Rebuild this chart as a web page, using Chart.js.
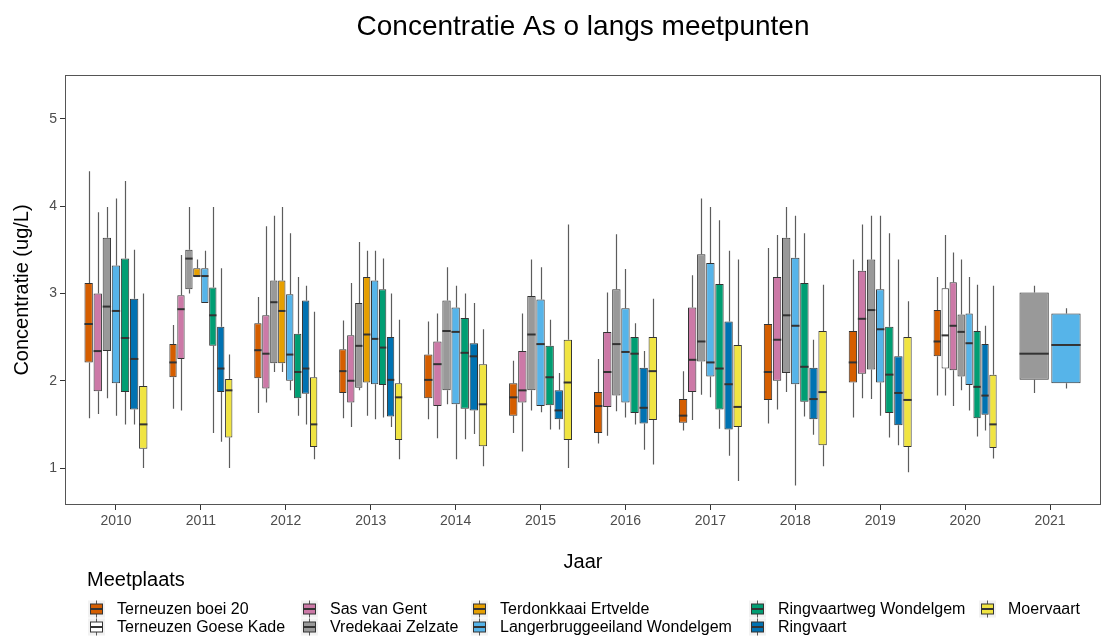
<!DOCTYPE html>
<html>
<head>
<meta charset="utf-8">
<title>Concentratie As</title>
<script src="https://cdn.jsdelivr.net/npm/chart.js@4"></script>
<style>
  html, body { margin: 0; padding: 0; background: #ffffff; }
</style>
</head>
<body>
<canvas id="plot" width="1103" height="636"></canvas>
<script>
const years = [2010, 2011, 2012, 2013, 2014, 2015, 2016, 2017, 2018, 2019, 2020, 2021];
const yTicks = [1, 2, 3, 4, 5];

const seriesNames = [
  'Terneuzen boei 20', 'Terneuzen Goese Kade', 'Sas van Gent', 'Vredekaai Zelzate',
  'Terdonkkaai Ertvelde', 'Langerbruggeeiland Wondelgem', 'Ringvaartweg Wondelgem',
  'Ringvaart', 'Moervaart'
];
const seriesColors = ['#D55E00', '#FFFFFF', '#CC79A7', '#999999', '#E69F00', '#56B4E9', '#009E73', '#0072B2', '#F0E442'];

// per year: [min, q1, median, q3, max]  (null = not measured that year)
const terneuzenBoei20 = [
  [1.57, 2.21, 2.65, 3.12, 4.40], [1.68, 2.04, 2.21, 2.42, 2.64], [1.63, 2.03, 2.35, 2.66, 2.96],
  [1.57, 1.86, 2.11, 2.36, 2.69], [1.56, 1.80, 2.01, 2.30, 2.68], [1.40, 1.60, 1.81, 1.97, 2.23],
  [1.28, 1.40, 1.71, 1.87, 2.25], [1.43, 1.52, 1.60, 1.79, 2.11], [1.51, 1.78, 2.10, 2.65, 3.52],
  [1.58, 1.98, 2.21, 2.57, 3.39], [1.83, 2.28, 2.45, 2.81, 3.19], null
];
const terneuzenGoeseKade = [
  null, null, null, null, null, null, null, null, null, null,
  [1.83, 2.14, 2.52, 3.06, 3.67], null
];
const sasVanGent = [
  [1.62, 1.88, 2.34, 3.00, 3.93], [1.66, 2.25, 2.82, 2.98, 3.44], [1.75, 1.91, 2.31, 2.75, 3.77],
  [1.47, 1.75, 2.00, 2.52, 3.12], [1.34, 1.71, 2.19, 2.45, 2.77], [1.19, 1.75, 1.89, 2.34, 2.77],
  [1.37, 1.70, 2.10, 2.56, 3.01], [1.55, 1.87, 2.24, 2.84, 3.21], [1.67, 2.00, 2.47, 3.19, 3.67],
  [1.80, 2.08, 2.71, 3.26, 3.79], [1.71, 2.12, 2.63, 3.13, 3.47], null
];
const vredekaaiZelzate = [
  [1.80, 2.34, 2.85, 3.64, 3.99], [3.00, 3.05, 3.40, 3.50, 3.99], [2.10, 2.20, 2.90, 3.15, 3.89],
  [1.89, 1.92, 2.40, 2.89, 3.59], [1.73, 1.89, 2.57, 2.92, 3.30], [1.66, 1.89, 2.53, 2.97, 3.39],
  [1.65, 1.83, 2.42, 3.05, 3.68], [1.84, 2.22, 2.45, 3.45, 4.09], [1.87, 2.09, 2.75, 3.64, 3.99],
  [1.79, 2.13, 2.81, 3.39, 3.89], [1.89, 2.05, 2.56, 2.76, 3.39], [1.86, 2.01, 2.31, 3.01, 3.09]
];
const terdonkkaaiErtvelde = [
  null, [3.20, 3.20, 3.20, 3.29, 3.39], [2.10, 2.20, 2.80, 3.15, 3.99],
  [1.60, 1.98, 2.53, 3.19, 3.49], null, null, null, null, null, null, null, null
];
const langerbruggeeiland = [
  [1.60, 1.97, 2.80, 3.32, 4.09], [2.89, 2.89, 3.20, 3.29, 3.49], [1.89, 2.00, 2.30, 2.99, 3.69],
  [1.56, 1.96, 2.48, 3.15, 3.49], [1.10, 1.73, 2.56, 2.84, 3.09], [1.64, 1.71, 2.42, 2.93, 3.30],
  [1.58, 1.75, 2.33, 2.83, 3.28], [1.81, 2.05, 2.21, 3.35, 3.99], [0.80, 1.96, 2.63, 3.41, 3.89],
  [1.60, 1.98, 2.59, 3.05, 3.89], [1.66, 1.95, 2.43, 2.77, 3.19], [1.91, 1.97, 2.41, 2.77, 2.83]
];
const ringvaartweg = [
  [1.50, 1.87, 2.49, 3.40, 4.29], [1.40, 2.40, 2.75, 3.07, 3.99], [1.60, 1.80, 2.10, 2.54, 3.19],
  [1.58, 1.95, 2.38, 3.05, 3.40], [1.33, 1.68, 2.32, 2.72, 3.00], [1.44, 1.72, 2.04, 2.40, 2.70],
  [1.50, 1.63, 2.31, 2.50, 2.66], [1.45, 1.67, 2.14, 3.11, 3.84], [1.59, 1.76, 2.16, 3.12, 3.69],
  [1.35, 1.63, 2.07, 2.62, 3.69], [1.36, 1.57, 1.93, 2.57, 3.10], null
];
const ringvaart = [
  [1.50, 1.67, 2.25, 2.94, 3.50], [1.30, 1.87, 2.14, 2.62, 3.29], [1.50, 1.85, 2.14, 2.92, 3.09],
  [1.47, 1.59, 2.01, 2.50, 3.00], [1.39, 1.66, 2.28, 2.43, 2.89], [1.44, 1.56, 1.66, 1.89, 2.09],
  [1.21, 1.51, 1.69, 2.15, 2.34], [1.14, 1.44, 1.96, 2.68, 3.49], [1.38, 1.56, 1.79, 2.15, 2.47],
  [1.26, 1.49, 1.86, 2.28, 3.39], [1.43, 1.61, 1.83, 2.42, 2.63], null
];
const moervaart = [
  [1.00, 1.22, 1.50, 1.94, 3.00], [1.00, 1.35, 1.89, 2.02, 2.30], [1.10, 1.24, 1.50, 2.04, 2.79],
  [1.10, 1.32, 1.81, 1.97, 2.70], [1.02, 1.25, 1.73, 2.19, 2.59], [1.00, 1.32, 1.98, 2.47, 3.79],
  [1.04, 1.55, 2.11, 2.50, 2.94], [0.85, 1.47, 1.70, 2.41, 3.39], [1.02, 1.26, 1.87, 2.57, 3.10],
  [0.95, 1.24, 1.78, 2.50, 2.91], [1.11, 1.23, 1.50, 2.07, 3.09], null
];

const allStats = [terneuzenBoei20, terneuzenGoeseKade, sasVanGent, vredekaaiZelzate,
  terdonkkaaiErtvelde, langerbruggeeiland, ringvaartweg, ringvaart, moervaart];

const FONT = "'Liberation Sans', Arial, sans-serif";
Chart.defaults.font.family = FONT;

// box = floating bar q1..q3, whiskers + median drawn by the plugin below
const datasets = allStats.map((stats, k) => ({
  label: seriesNames[k],
  data: years.map((yr, i) => ({ x: yr, y: stats[i] ? [stats[i][1], stats[i][3]] : null })),
  stats: stats,
  backgroundColor: seriesColors[k],
  borderColor: '#333333',
  borderWidth: 1,
  borderSkipped: false,
  skipNull: true,
  categoryPercentage: 0.75,
  barPercentage: 0.92
}));

const boxParts = {
  id: 'boxParts',
  beforeDatasetsDraw(chart) {
    const { ctx, chartArea, scales: { y } } = chart;
    ctx.save();
    ctx.beginPath();
    ctx.rect(chartArea.left, chartArea.top, chartArea.width, chartArea.height);
    ctx.clip();
    ctx.strokeStyle = 'rgba(51,51,51,0.8)';
    ctx.lineWidth = 1.2;
    chart.data.datasets.forEach((ds, di) => {
      chart.getDatasetMeta(di).data.forEach((bar, i) => {
        const s = ds.stats[i];
        if (!s) return;
        const x = Math.round(bar.x) + 0.5;
        ctx.beginPath();
        ctx.moveTo(x, y.getPixelForValue(s[4]));
        ctx.lineTo(x, y.getPixelForValue(s[3]));
        ctx.moveTo(x, y.getPixelForValue(s[1]));
        ctx.lineTo(x, y.getPixelForValue(s[0]));
        ctx.stroke();
      });
    });
    ctx.restore();
  },
  afterDatasetsDraw(chart) {
    const { ctx, scales: { y } } = chart;
    ctx.save();
    ctx.strokeStyle = '#333333';
    ctx.lineWidth = 2;
    chart.data.datasets.forEach((ds, di) => {
      chart.getDatasetMeta(di).data.forEach((bar, i) => {
        const s = ds.stats[i];
        if (!s) return;
        const ym = y.getPixelForValue(s[2]);
        ctx.beginPath();
        ctx.moveTo(bar.x - bar.width / 2, ym);
        ctx.lineTo(bar.x + bar.width / 2, ym);
        ctx.stroke();
      });
    });
    ctx.restore();
  },
  afterDraw(chart) {
    const { ctx, chartArea: a } = chart;
    ctx.save();
    // panel border
    ctx.strokeStyle = '#555555';
    ctx.lineWidth = 1;
    ctx.strokeRect(a.left + 0.5, a.top + 0.5, a.width - 1, a.height - 1);

    // title
    ctx.fillStyle = '#000000';
    ctx.textAlign = 'center';
    ctx.textBaseline = 'middle';
    ctx.font = '28px ' + FONT;
    ctx.fillText('Concentratie As o langs meetpunten', (a.left + a.right) / 2, 27);

    // legend
    ctx.textAlign = 'left';
    ctx.font = '20px ' + FONT;
    ctx.fillText('Meetplaats', 87, 580);
    const colX = [88, 301, 471, 749, 979];
    const rowY = [609, 627];
    ctx.font = '16px ' + FONT;
    seriesNames.forEach((name, k) => {
      const kx = colX[Math.floor(k / 2)];
      const ky = rowY[k % 2];
      ctx.fillStyle = '#f2f2f2';
      ctx.fillRect(kx, ky - 8.5, 17, 17);
      ctx.strokeStyle = 'rgba(51,51,51,0.8)';
      ctx.lineWidth = 1;
      ctx.beginPath();
      ctx.moveTo(kx + 8.5, ky - 8.5); ctx.lineTo(kx + 8.5, ky - 5);
      ctx.moveTo(kx + 8.5, ky + 5); ctx.lineTo(kx + 8.5, ky + 8.5);
      ctx.stroke();
      ctx.fillStyle = seriesColors[k];
      ctx.fillRect(kx + 2.5, ky - 5, 12, 10);
      ctx.strokeStyle = '#333333';
      ctx.strokeRect(kx + 2.5, ky - 5, 12, 10);
      ctx.lineWidth = 2;
      ctx.beginPath();
      ctx.moveTo(kx + 2.5, ky); ctx.lineTo(kx + 14.5, ky);
      ctx.stroke();
      ctx.fillStyle = '#000000';
      ctx.fillText(name, kx + 29, ky + 1);
    });
    ctx.restore();
  }
};

new Chart(document.getElementById('plot'), {
  type: 'bar',
  data: { datasets: datasets },
  options: {
    responsive: false,
    animation: false,
    devicePixelRatio: 1,
    layout: { padding: { top: 75, right: 2, left: 0, bottom: 0 } },
    plugins: { legend: { display: false }, title: { display: false }, tooltip: { enabled: false } },
    scales: {
      x: {
        type: 'linear',
        min: 2009.4,
        max: 2021.6,
        offset: false,
        afterFit: (scale) => { scale.height = 131; },
        afterBuildTicks: (scale) => { scale.ticks = years.map(v => ({ value: v })); },
        ticks: {
          callback: (v) => String(v),
          color: '#4d4d4d',
          font: { size: 14 },
          padding: 3,
          maxRotation: 0,
          autoSkip: false
        },
        grid: { offset: false, drawOnChartArea: false, tickLength: 5, tickColor: '#333333' },
        border: { display: false },
        title: { display: true, text: 'Jaar', color: '#000000', font: { size: 20 }, padding: { top: 0, bottom: 62 } }
      },
      y: {
        min: 0.576,
        max: 5.504,
        afterFit: (scale) => { scale.width = 65; },
        afterBuildTicks: (scale) => { scale.ticks = yTicks.map(v => ({ value: v })); },
        ticks: { color: '#4d4d4d', font: { size: 14 }, padding: 3 },
        grid: { drawOnChartArea: false, tickLength: 5, tickColor: '#333333' },
        border: { display: false },
        title: { display: true, text: 'Concentratie (ug/L)', color: '#000000', font: { size: 20 }, padding: { top: 10, bottom: 0 } }
      }
    }
  },
  plugins: [boxParts]
});
</script>
</body>
</html>
